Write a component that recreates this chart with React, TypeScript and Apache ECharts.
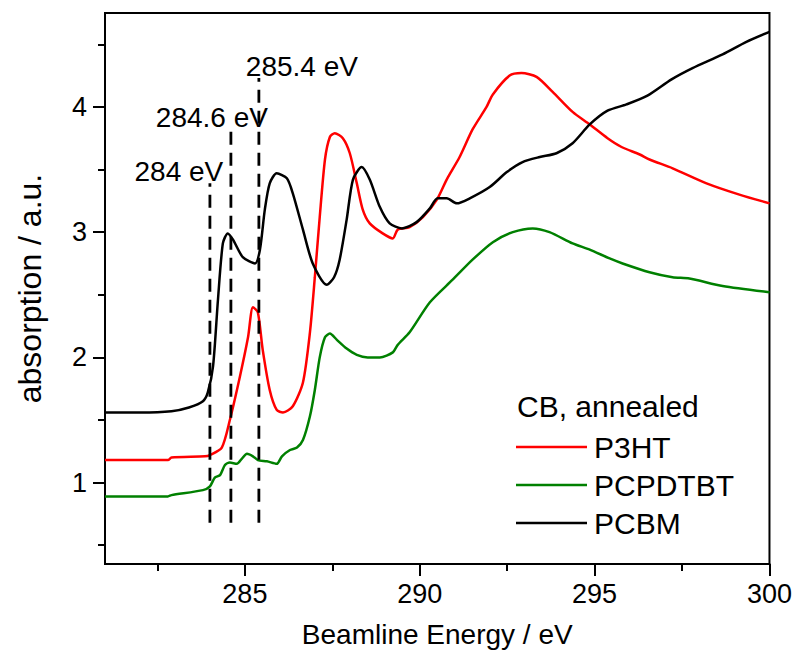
import React, { useEffect, useRef } from "react";
import * as echarts from "echarts";

// Beamline energy (eV) vs absorption (a.u.)
const p3ht: [number, number][] = [
  [281.0, 1.18], [282.8, 1.18], [282.9, 1.2], [283.86, 1.21], [284.0, 1.22], [284.34, 1.28],
  [284.57, 1.5], [284.86, 1.85], [285.09, 2.16], [285.23, 2.4], [285.37, 2.36], [285.51, 2.06],
  [285.71, 1.74], [285.91, 1.58], [286.09, 1.56], [286.37, 1.61], [286.66, 1.8], [286.86, 2.2],
  [287.0, 2.64], [287.14, 3.12], [287.29, 3.58], [287.43, 3.76], [287.57, 3.79], [287.8, 3.75],
  [288.0, 3.63], [288.2, 3.39], [288.37, 3.18], [288.57, 3.07], [288.94, 2.99], [289.23, 2.95],
  [289.37, 3.02], [289.71, 3.04], [290.09, 3.12], [290.49, 3.26], [290.77, 3.42], [291.14, 3.6],
  [291.51, 3.82], [291.91, 4.0], [292.09, 4.1], [292.57, 4.25], [292.91, 4.27], [293.34, 4.24],
  [293.8, 4.12], [294.37, 3.96], [294.86, 3.86], [295.37, 3.75], [295.77, 3.68], [296.29, 3.62],
  [296.57, 3.58], [297.23, 3.51], [298.2, 3.39], [299.14, 3.3], [300.0, 3.23],
];

const pcpdtbt: [number, number][] = [
  [281.0, 0.89], [282.8, 0.89], [282.9, 0.9], [283.8, 0.94], [284.0, 0.97], [284.14, 1.04],
  [284.29, 1.06], [284.43, 1.14], [284.57, 1.16], [284.77, 1.15], [284.91, 1.19], [285.06, 1.23],
  [285.23, 1.21], [285.37, 1.18], [285.63, 1.17], [285.91, 1.15], [286.06, 1.21], [286.29, 1.26],
  [286.49, 1.28], [286.66, 1.34], [286.86, 1.53], [287.0, 1.74], [287.14, 2.0], [287.29, 2.16],
  [287.43, 2.19], [287.63, 2.14], [287.91, 2.07], [288.2, 2.02], [288.51, 2.0], [288.86, 2.0],
  [289.23, 2.04], [289.37, 2.1], [289.71, 2.2], [290.29, 2.44], [290.94, 2.62], [291.51, 2.78],
  [292.09, 2.92], [292.66, 3.0], [293.23, 3.03], [293.71, 3.0], [294.37, 2.91], [294.86, 2.86],
  [295.43, 2.79], [295.8, 2.75], [296.57, 2.68], [297.23, 2.64], [297.71, 2.63], [298.66, 2.57],
  [300.0, 2.52],
];

const pcbm: [number, number][] = [
  [281.0, 1.56], [282.0, 1.56], [282.9, 1.57], [283.4, 1.6], [283.8, 1.65], [283.94, 1.72],
  [284.09, 1.93], [284.23, 2.46], [284.37, 2.91], [284.51, 2.99], [284.66, 2.94], [284.94, 2.8],
  [285.29, 2.75], [285.43, 2.86], [285.57, 3.18], [285.71, 3.39], [285.91, 3.47], [286.2, 3.43],
  [286.37, 3.31], [286.66, 3.02], [286.94, 2.75], [287.34, 2.58], [287.55, 2.64], [287.71, 2.78],
  [287.91, 3.1], [288.09, 3.42], [288.34, 3.52], [288.57, 3.42], [288.86, 3.2], [289.14, 3.07],
  [289.49, 3.03], [289.91, 3.08], [290.29, 3.19], [290.51, 3.27], [290.77, 3.27], [291.06, 3.23],
  [291.43, 3.27], [292.0, 3.36], [292.49, 3.48], [292.94, 3.56], [293.43, 3.6], [293.91, 3.63],
  [294.37, 3.71], [294.86, 3.86], [295.37, 3.97], [295.91, 4.02], [296.51, 4.09], [297.2, 4.22],
  [297.8, 4.31], [298.66, 4.42], [299.34, 4.52], [300.0, 4.6],
];

const markerEnergies = [284, 284.6, 285.4];
const markerTops = [3.39, 3.82, 4.23];
const markerBottom = 0.68;
const markerLabels = ["284 eV", "284.6 eV", "285.4 eV"];
const markerLabelShift = [-31, -19, 43];

const energyTicks = [285, 290, 295, 300];
const energyMinorTicks = [282.5, 287.5, 292.5, 297.5];
const absorptionTicks = [1, 2, 3, 4];
const absorptionMinorTicks = [0.5, 1.5, 2.5, 3.5, 4.5];

const FONT = "'Liberation Sans', Arial, sans-serif";

export default function App() {
  const ref = useRef<HTMLDivElement>(null);

  useEffect(() => {
    if (!ref.current) return;
    const chart = echarts.init(ref.current, null, { renderer: "svg" });

    const curve = (name: string, data: [number, number][], color: string) => ({
      name,
      type: "line",
      data,
      xAxisIndex: 0,
      yAxisIndex: 0,
      symbol: "none",
      smooth: 0.25,
      lineStyle: { color, width: 2.5 },
      itemStyle: { color },
      z: 3,
    });

    const markers = markerEnergies.map((e, i) => ({
      name: markerLabels[i],
      type: "line",
      xAxisIndex: 0,
      yAxisIndex: 0,
      symbol: "circle",
      symbolSize: 1,
      itemStyle: { color: "rgba(0,0,0,0)" },
      lineStyle: { color: "#000", width: 2.8, type: [13, 8] },
      z: 4,
      silent: true,
      data: [
        [e, markerBottom],
        {
          value: [e, markerTops[i]],
          label: {
            show: true,
            position: "top",
            distance: 0,
            offset: [markerLabelShift[i], 2],
            formatter: markerLabels[i],
            fontSize: 28,
            lineHeight: 26,
            fontFamily: FONT,
            color: "#000",
          },
        },
      ],
    }));

    chart.setOption({
      animation: false,
      backgroundColor: "#fff",
      textStyle: { fontFamily: FONT, color: "#000" },
      grid: {
        left: 105,
        top: 13,
        right: 25,
        bottom: 93,
        show: true,
        borderColor: "#000",
        borderWidth: 2,
      },
      legend: {
        data: ["P3HT", "PCPDTBT", "PCBM"],
        orient: "vertical",
        left: 516,
        top: 432,
        padding: 0,
        icon: "rect",
        itemWidth: 71,
        itemHeight: 2.5,
        itemGap: 8,
        textStyle: { fontSize: 30, lineHeight: 30, fontFamily: FONT, color: "#000", padding: [0, 0, 0, 2] },
      },
      graphic: [
        {
          type: "text",
          left: 517,
          top: 391,
          style: { text: "CB, annealed", fontSize: 30, fontFamily: FONT, fill: "#000" },
        },
      ],
      xAxis: [
        {
          type: "value",
          min: 281,
          max: 300,
          position: "bottom",
          name: "Beamline Energy / eV",
          nameLocation: "middle",
          nameGap: 56,
          nameTextStyle: { fontSize: 28, fontFamily: FONT, color: "#000" },
          axisLine: { show: true, onZero: false, lineStyle: { color: "#000", width: 2 } },
          axisTick: { show: true, customValues: energyTicks, length: 12, lineStyle: { color: "#000", width: 2 } },
          axisLabel: { customValues: energyTicks, fontSize: 27, margin: 16, color: "#000", fontFamily: FONT },
          splitLine: { show: false },
        },
        {
          type: "value",
          min: 281,
          max: 300,
          position: "bottom",
          offset: 0,
          axisLine: { show: false },
          axisTick: { show: true, customValues: energyMinorTicks, length: 7, lineStyle: { color: "#000", width: 2 } },
          axisLabel: { show: false },
          splitLine: { show: false },
        },
      ],
      yAxis: [
        {
          type: "value",
          min: 0.35,
          max: 4.75,
          position: "left",
          name: "absorption / a.u.",
          nameLocation: "middle",
          nameGap: 59,
          nameTextStyle: { fontSize: 32, fontFamily: FONT, color: "#000" },
          axisLine: { show: true, onZero: false, lineStyle: { color: "#000", width: 2 } },
          axisTick: { show: true, customValues: absorptionTicks, length: 12, lineStyle: { color: "#000", width: 2 } },
          axisLabel: { customValues: absorptionTicks, fontSize: 27, margin: 18, color: "#000", fontFamily: FONT },
          splitLine: { show: false },
        },
        {
          type: "value",
          min: 0.35,
          max: 4.75,
          position: "left",
          offset: 0,
          axisLine: { show: false },
          axisTick: { show: true, customValues: absorptionMinorTicks, length: 7, lineStyle: { color: "#000", width: 2 } },
          axisLabel: { show: false },
          splitLine: { show: false },
        },
      ],
      series: [
        curve("P3HT", p3ht, "#ff0000"),
        curve("PCPDTBT", pcpdtbt, "#008000"),
        curve("PCBM", pcbm, "#000000"),
        ...markers,
      ],
    });

    return () => chart.dispose();
  }, []);

  return (
    <div
      ref={ref}
      style={{ position: "absolute", left: 0, top: 0, width: 795, height: 657, background: "#fff" }}
    />
  );
}
